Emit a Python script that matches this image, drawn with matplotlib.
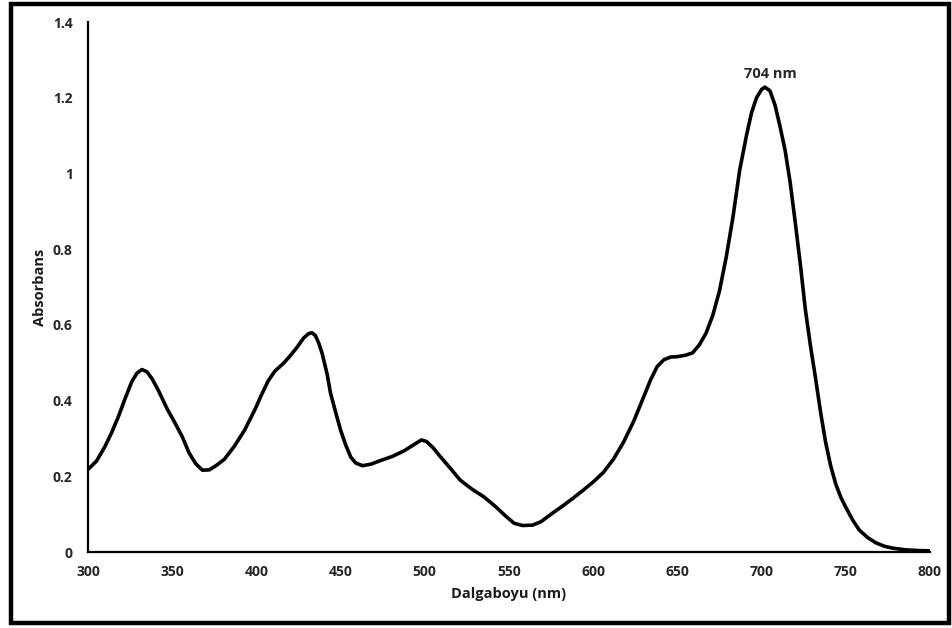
import matplotlib
matplotlib.use("Agg")
import matplotlib.pyplot as plt
from matplotlib.patches import Rectangle

# Absorption spectrum (wavelength in nm, absorbance)
wavelength = [300, 305, 310, 314, 318, 322, 326, 329, 332, 335, 338, 342, 347, 352, 356,
              360, 364, 368, 372, 376, 381, 387, 393, 399, 403, 407, 411, 416, 420, 424,
              428, 431, 433, 435, 437, 439, 442, 444, 447, 450, 453, 456, 459, 463, 468,
              474, 481, 488, 494, 498, 501, 505, 509, 515, 521, 528, 535, 542, 548, 553,
              558, 564, 569, 575, 582, 588, 594, 600, 606, 612, 618, 624, 630, 634, 638,
              642, 646, 650, 655, 659, 663, 667, 671, 675, 679, 683, 687, 691, 694, 697,
              700, 702, 705, 708, 711, 714, 717, 720, 723, 726, 729, 732, 735, 738, 741,
              744, 747, 750, 754, 758, 763, 768, 773, 778, 785, 792, 800]
absorbance = [0.218, 0.24, 0.278, 0.315, 0.357, 0.405, 0.45, 0.472, 0.482, 0.476, 0.458,
              0.425, 0.378, 0.338, 0.304, 0.262, 0.233, 0.216, 0.217, 0.228, 0.245, 0.28,
              0.322, 0.375, 0.415, 0.452, 0.478, 0.498, 0.518, 0.54, 0.565, 0.577, 0.579,
              0.572, 0.552, 0.525, 0.47, 0.42, 0.37, 0.322, 0.283, 0.251, 0.235, 0.228,
              0.232, 0.242, 0.253, 0.268, 0.285, 0.296, 0.292, 0.275, 0.253, 0.222, 0.19,
              0.166, 0.146, 0.12, 0.095, 0.076, 0.07, 0.071, 0.08, 0.10, 0.122, 0.142,
              0.163, 0.185, 0.21, 0.245, 0.29, 0.345, 0.41, 0.454, 0.49, 0.508, 0.515,
              0.516, 0.52, 0.526, 0.547, 0.578, 0.625, 0.69, 0.779, 0.885, 1.009, 1.10,
              1.16, 1.20, 1.222, 1.228, 1.218, 1.18, 1.123, 1.06, 0.975, 0.87, 0.76, 0.64,
              0.545, 0.46, 0.37, 0.29, 0.228, 0.18, 0.145, 0.118, 0.085, 0.058, 0.038,
              0.024, 0.015, 0.01, 0.006, 0.004, 0.003]

peak_label = "704 nm"
peak_pos = (705, 1.262)

x_ticks = [300, 350, 400, 450, 500, 550, 600, 650, 700, 750, 800]
y_ticks = [0, 0.2, 0.4, 0.6, 0.8, 1.0, 1.2, 1.4]
y_tick_labels = ["0", "0.2", "0.4", "0.6", "0.8", "1", "1.2", "1.4"]

plt.rcParams["font.family"] = ["Open Sans", "DejaVu Sans"]

fig = plt.figure(figsize=(9.52, 6.28), dpi=100)
ax = fig.add_axes([88 / 952, 1 - 552 / 628, (930 - 88) / 952, (552 - 22) / 628])

ax.plot(wavelength, absorbance, color="black", linewidth=2.6,
        solid_joinstyle="round", solid_capstyle="round")

ax.set_xlim(300, 800)
ax.set_ylim(0, 1.4)
ax.set_xticks(x_ticks)
ax.set_xticklabels([str(t) for t in x_ticks], fontsize=10, fontweight="bold", color="#262626")
ax.set_yticks(y_ticks)
ax.set_yticklabels(y_tick_labels, fontsize=10, fontweight="bold", color="#262626")
ax.tick_params(axis="both", length=0)
ax.tick_params(axis="y", pad=11)
ax.tick_params(axis="x", pad=9)

for side in ("top", "right"):
    ax.spines[side].set_visible(False)
for side in ("left", "bottom"):
    ax.spines[side].set_linewidth(1.6)
    ax.spines[side].set_color("black")

ax.set_xlabel("Dalgaboyu (nm)", fontsize=10.5, fontweight="bold", labelpad=6, color="#1a1a1a")
ax.set_ylabel("Absorbans", fontsize=10.5, fontweight="bold", labelpad=4, color="#1a1a1a")

ax.text(peak_pos[0], peak_pos[1], peak_label, ha="center", va="center",
        fontsize=10.5, fontweight="bold", color="#262626", clip_on=False)

# outer frame around the whole figure
fig.patches.append(Rectangle((11 / 952, 5 / 628), 938 / 952, 619 / 628,
                             transform=fig.transFigure, fill=False,
                             edgecolor="black", linewidth=3.2))

fig.savefig("out.png", dpi=100)
